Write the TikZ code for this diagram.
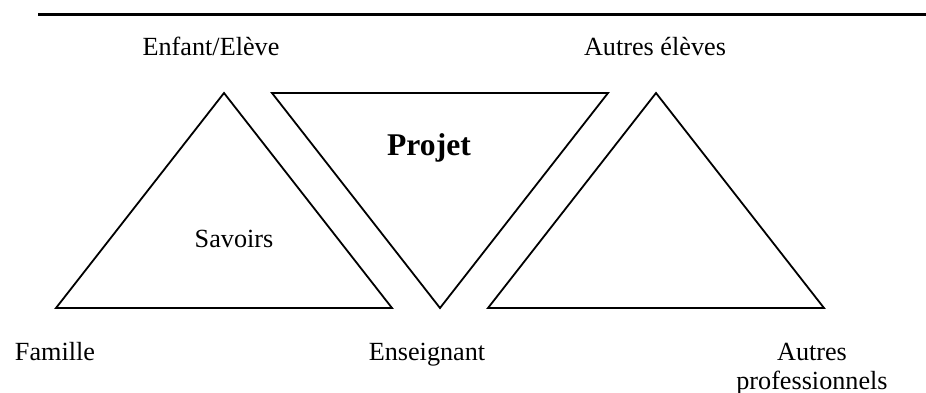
\documentclass[tikz,border=0pt]{standalone}
\usepackage{fontspec}
\setmainfont{Liberation Serif}
\begin{document}
\begin{tikzpicture}[x=0.5pt,y=-0.5pt,
  tri/.style={draw=black,line width=0.9pt,line join=miter},
  lbl/.style={font=\fontsize{13.1}{15}\selectfont,anchor=base,inner sep=0pt},
  big/.style={font=\fontsize{15.8}{18}\selectfont\bfseries,anchor=base,inner sep=0pt}]
\useasboundingbox (0,0) rectangle (926,392);
\draw[line width=1.1pt] (38,14.5) -- (926,14.5);
% triangles
\coordinate (la) at (224,93); \coordinate (lb) at (56,308); \coordinate (lc) at (392,308);
\coordinate (ma) at (272,93); \coordinate (mb) at (608,93); \coordinate (mc) at (440,308);
\coordinate (ra) at (656,93); \coordinate (rb) at (488,308); \coordinate (rc) at (824,308);
\draw[tri] (la) -- (lb) -- (lc) -- cycle;
\draw[tri] (ma) -- (mb) -- (mc) -- cycle;
\draw[tri] (ra) -- (rb) -- (rc) -- cycle;
% labels
\node[lbl] (enfant) at (211,55) {Enfant/Elève};
\node[lbl] (autres) at (655,55) {Autres élèves};
\node[big] (projet) at (429,155) {Projet};
\node[lbl] (savoirs) at (234,247) {Savoirs};
\node[lbl] (famille) at (55,360) {Famille};
\node[lbl] (ens) at (427,360) {Enseignant};
\node[lbl] (autres2) at (812,360) {Autres};
\node[lbl] (prof) at (812,389) {professionnels};
\end{tikzpicture}
\end{document}
